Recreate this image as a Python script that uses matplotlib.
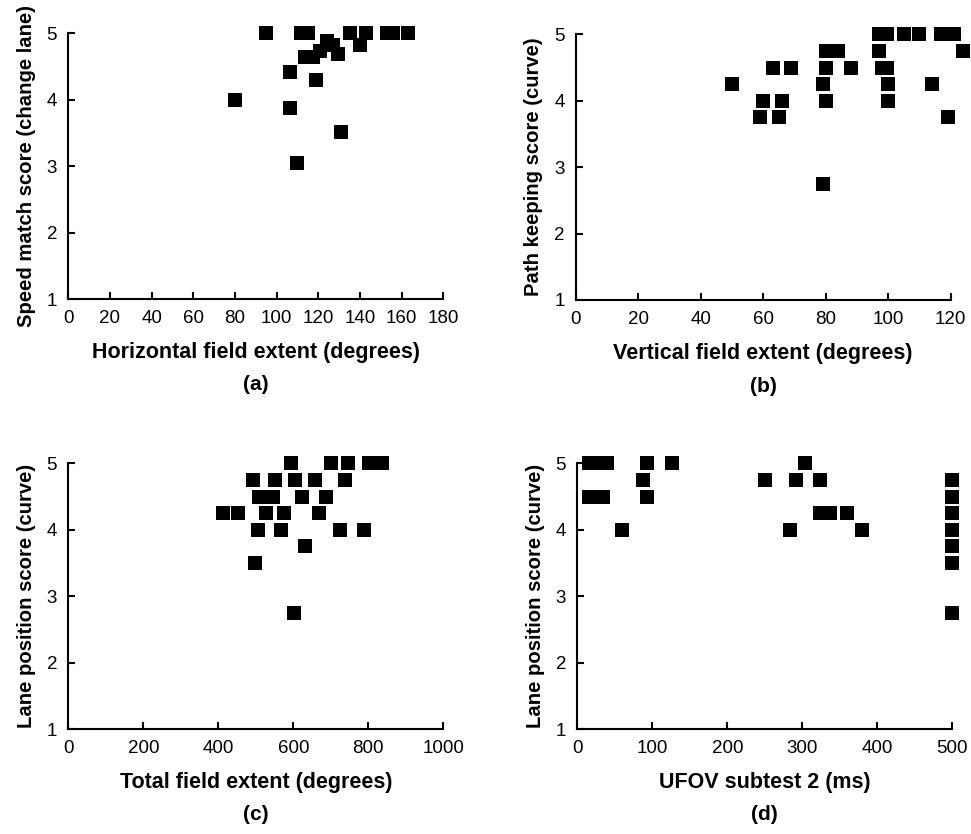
import numpy as np
import matplotlib
matplotlib.use("Agg")
import matplotlib.pyplot as plt

plt.rcParams['font.family'] = ['Liberation Sans', 'DejaVu Sans']

# (a) horizontal field extent vs speed match score
hor_x = [80, 95, 106.5, 106.5, 110, 111.5, 115, 113.5, 117.5, 119, 121, 124, 127, 129.5,
         131, 135, 140, 143, 153, 156, 163]
hor_y = [4.0, 5, 4.42, 3.87, 3.04, 5, 5, 4.65, 4.65, 4.29, 4.73, 4.88, 4.82, 4.69,
         3.52, 5, 4.83, 5, 5, 5, 5]

# (b) vertical field extent vs path keeping score
ver_x = [50, 63, 69, 60, 66, 59, 65, 79, 80, 80, 79, 80, 84, 88, 97, 97, 99.5, 98, 99.5,
         100, 100, 105, 110, 114, 119, 117, 121, 124]
ver_y = [4.25, 4.5, 4.5, 4.0, 4.0, 3.75, 3.75, 4.25, 4.5, 4.0, 2.75, 4.75, 4.75, 4.5,
         4.75, 5, 5, 4.5, 4.5, 4.25, 4.0, 5, 5, 4.25, 3.75, 5, 5, 4.75]

# (c) total field extent vs lane position score
tot_x = [594, 701, 746, 803, 836, 493, 551, 605, 658, 738, 509, 547, 622, 687,
         413, 452, 527, 575, 669, 505, 566, 724, 789, 631, 499, 603]
tot_y = [5, 5, 5, 5, 5, 4.75, 4.75, 4.75, 4.75, 4.75, 4.5, 4.5, 4.5, 4.5,
         4.25, 4.25, 4.25, 4.25, 4.25, 4.0, 4.0, 4.0, 4.0, 3.75, 3.5, 2.75]

# (d) UFOV subtest 2 vs lane position score
ufov_x = [16, 28, 40, 93, 126, 304, 87, 250, 291, 323, 16, 34, 93, 324, 337, 360,
          60, 284, 380, 500, 500, 500, 500, 500, 500, 500]
ufov_y = [5, 5, 5, 5, 5, 5, 4.75, 4.75, 4.75, 4.75, 4.5, 4.5, 4.5, 4.25, 4.25, 4.25,
          4.0, 4.0, 4.0, 4.75, 4.5, 4.25, 4.0, 3.75, 3.5, 2.75]

panels = [
    (hor_x, hor_y, 180, 20, "Horizontal field extent (degrees)", "Speed match score (change lane)", "(a)"),
    (ver_x, ver_y, 120, 20, "Vertical field extent (degrees)", "Path keeping score (curve)", "(b)"),
    (tot_x, tot_y, 1000, 200, "Total field extent (degrees)", "Lane position score (curve)", "(c)"),
    (ufov_x, ufov_y, 500, 100, "UFOV subtest 2 (ms)", "Lane position score (curve)", "(d)"),
]

W, H = 971, 834
fig = plt.figure(figsize=(W / 100, H / 100), dpi=100)
boxes = [(68.3, 299), (575.7, 300), (68.3, 729), (577.3, 729)]

for (x, y, xmax, step, xl, yl, tag), (left, bot) in zip(panels, boxes):
    ax = fig.add_axes([left / W, 1 - bot / H, 375 / W, 265.7 / H])
    ax.plot(x, y, 's', color='black', markersize=9.6, markeredgewidth=0, clip_on=False)
    ax.set_xlim(0, xmax)
    ax.set_ylim(1, 5)
    ax.set_xticks(np.arange(0, xmax + 1, step))
    ax.set_yticks([1, 2, 3, 4, 5])
    for s in ['top', 'right']:
        ax.spines[s].set_visible(False)
    for s in ['left', 'bottom']:
        ax.spines[s].set_linewidth(1.5)
    ax.tick_params(direction='in', length=5, width=1.5, labelsize=13.5, pad=8)
    ax.set_xlabel(xl, fontsize=15.5, fontweight='bold', labelpad=11)
    ax.set_ylabel(yl, fontsize=14.6, fontweight='bold', labelpad=8)
    cx = (left + 187.5) / W
    fig.text(cx, 1 - (bot + 86) / H, tag, fontsize=15, fontweight='bold', ha='center', va='center')

fig.savefig('out.png', dpi=100)
